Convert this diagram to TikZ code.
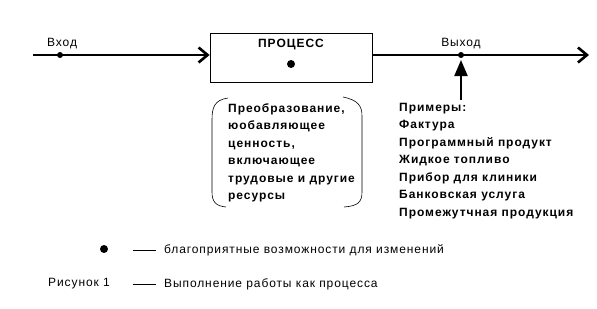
\documentclass[tikz,border=0pt]{standalone}
\usepackage{fontspec}
\setmainfont{Liberation Sans}
\newfontfamily\boldsp[LetterSpace=8]{Liberation Sans Bold}
\newfontfamily\regsp[LetterSpace=7.5]{Liberation Sans}
\usetikzlibrary{arrows.meta}
\begin{document}
\begin{tikzpicture}[x=1pt,y=-1pt,
  flow/.style={line width=2.8pt,-{Straight Barb[length=9pt,width=15pt,line width=2.6pt]}},
  dotmark/.style={circle,fill=black,inner sep=0pt,minimum size=6pt},
  lbl/.style={font=\regsp\fontsize{12}{14}\selectfont,inner sep=0pt},
  bl/.style={font=\boldsp\fontsize{12}{17.5}\selectfont,inner sep=0pt,align=left}]
\useasboundingbox (0,0) rectangle (597,308);
% process box
\node[draw,line width=0.8pt,minimum width=162pt,minimum height=49pt,inner sep=0pt] (proc) at (291,57.5) {};
\node[bl] (ptitle) at (291,44.5) {ПРОЦЕСС};
\node[dotmark,minimum size=8pt] (pdot) at (291,64) {};
% input
\coordinate (in) at (33,55);
\draw[flow] (in) -- (proc.west |- in);
\node[dotmark] (indot) at (60,55) {};
\node[lbl,anchor=west] (inl) at (47,44) {Вход};
% output
\coordinate (outend) at (589,55);
\draw[flow] (proc.east |- outend) -- (outend);
\node[dotmark] (outdot) at (461,55) {};
\node[lbl] (outl) at (461,44) {Выход};
% upward arrow
\coordinate (upstart) at (461,100);
\coordinate (uptip) at (461,60);
\draw[line width=2.2pt,-{Triangle[length=16pt,width=13pt]}] (upstart) -- (uptip);
% transformation block
\node[bl,anchor=north west] (trans) at (228,103) {Преобразование,\\юобавляющее\\ценность,\\включающее\\трудовые и другие\\ресурсы};
\draw[line width=0.6pt] (228,98) .. controls (214,100) and (212,108) .. (212,120) -- (212,192) .. controls (212,202) and (216,206) .. (226,207);
\draw[line width=0.6pt] (343,97) .. controls (358,100) and (362,106) .. (362,116) -- (362,192) .. controls (362,202) and (358,206) .. (344,207);
% examples
\node[bl,anchor=north west] (ex) at (399,103) {Примеры:\\Фактура\\Программный продукт\\Жидкое топливо\\Прибор для клиники\\Банковская услуга\\Промежутчная продукция};
% legend
\node[dotmark,minimum size=8pt] (ldot) at (104,249) {};
\coordinate (l1a) at (133,250);
\coordinate (l1b) at (156,250);
\draw[line width=0.6pt] (l1a) -- (l1b);
\node[lbl,anchor=west] (l1) at (164,250) {благоприятные возможности для изменений};
\node[lbl,anchor=west] (fig) at (48,284) {Рисунок 1};
\coordinate (l2a) at (133,284);
\coordinate (l2b) at (156,284);
\draw[line width=0.6pt] (l2a) -- (l2b);
\node[lbl,anchor=west] (l2) at (164,284) {Выполнение работы как процесса};
\end{tikzpicture}
\end{document}
